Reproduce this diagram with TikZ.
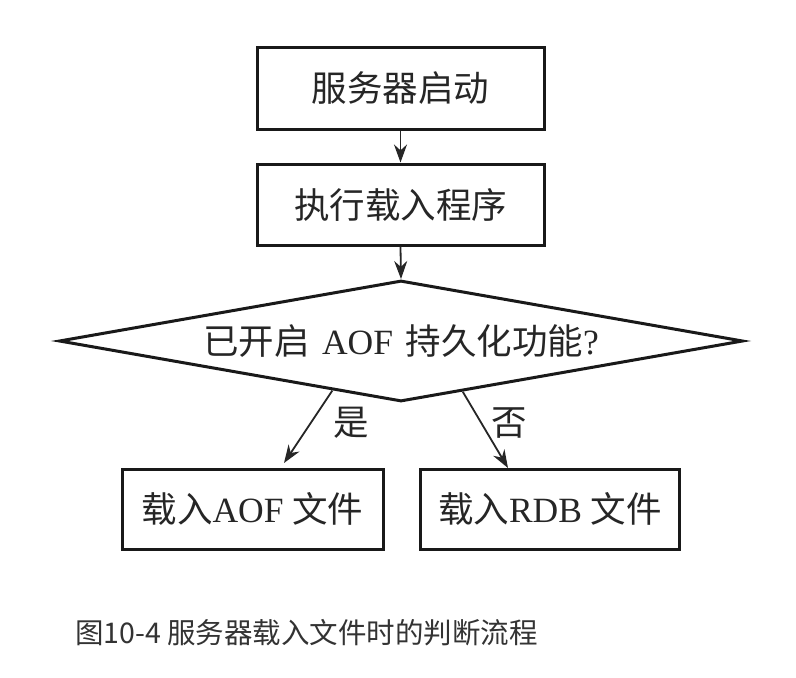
\documentclass[tikz,border=0pt]{standalone}
\usepackage{fontspec}
\setmainfont{Liberation Serif}
\newfontfamily\cjk{Noto Sans CJK SC}
\usetikzlibrary{shapes.geometric,arrows.meta,calc}
\begin{document}
\begin{tikzpicture}[x=1pt,y=-1pt,
  lbl/.style={font=\fontsize{35.5}{40}\selectfont, text=black!85},
  box/.style={draw=black!90, line width=3pt, inner sep=0pt, lbl},
  dec/.style={draw=black!90, line width=3pt, diamond, aspect=5.6, inner sep=0pt,
      minimum width=684pt, minimum height=121pt, lbl},
  arr/.style={draw=black!85, line width=1.8pt, -{Stealth[length=18pt,width=13pt]}},
  captxt/.style={font=\fontsize{28.5}{32}\selectfont\cjk, text=black!80, anchor=west, inner sep=0pt}]
\useasboundingbox[fill=white] (0,0) rectangle (796,678);
\node[box, minimum width=287pt, minimum height=82pt] (b1) at (400.5,88.5) {\cjk 服务器启动};
\node[box, minimum width=287pt, minimum height=81pt] (b2) at (400.5,204.5) {\cjk 执行载入程序};
\node[dec] (d) at (401,341) {{\cjk 已开启}\hspace{0.35em}AOF\hspace{0.35em}{\cjk 持久化功能}?};
\node[box, minimum width=261pt, minimum height=80pt] (b3) at (252.5,509) {{\cjk 载入}AOF {\cjk 文件}};
\node[box, minimum width=259pt, minimum height=80pt] (b4) at (550,509) {{\cjk 载入}RDB {\cjk 文件}};
\coordinate (s1) at ($(d.south)!0.2!(d.west)$);
\coordinate (s2) at ($(d.south)!0.18!(d.east)$);
\coordinate (e1) at (284,463);
\coordinate (e2) at (508,468);
\draw[arr] (b1.south) -- (b2.north);
\draw[arr] (b2.south) -- (d.north);
\draw[arr] (s1) -- (e1);
\draw[arr] (s2) -- (e2);
\node[lbl, font=\fontsize{35.5}{40}\selectfont\cjk] (yes) at (351,423) {是};
\node[lbl, font=\fontsize{35.5}{40}\selectfont\cjk] (no) at (509,423) {否};
\node[captxt] (caption) at (75,633) {图10-4 服务器载入文件时的判断流程};
\end{tikzpicture}
\end{document}
